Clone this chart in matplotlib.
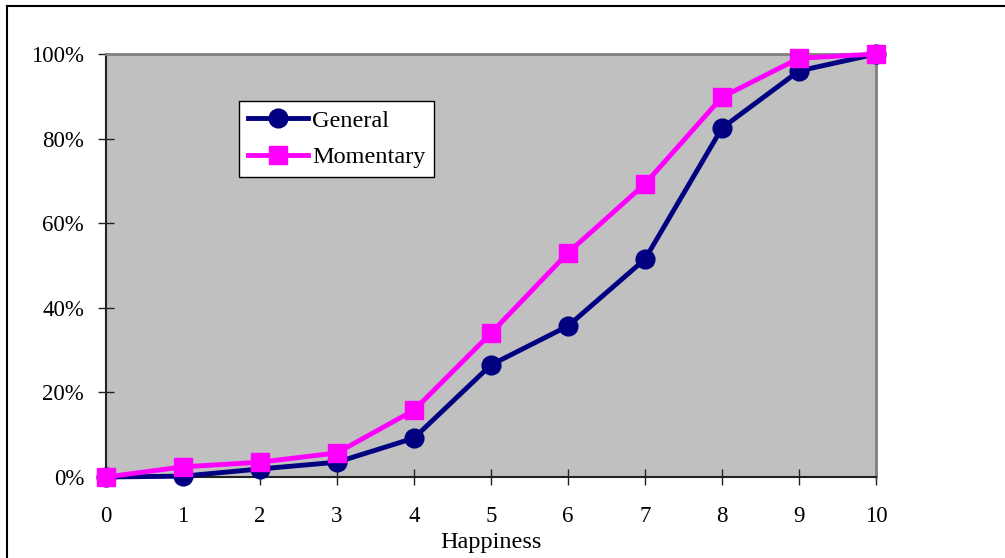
import numpy as np
from matplotlib import pyplot as plt
from matplotlib.ticker import PercentFormatter

happiness = list(range(11))
general = [0.0, 0.2, 1.9, 3.5, 9.2, 26.5, 35.7, 51.5, 82.5, 96.0, 100.0]
momentary = [0.0, 2.4, 3.5, 5.7, 15.8, 34.0, 53.0, 69.3, 89.8, 99.0, 100.0]

plt.rcParams['font.family'] = ['Liberation Serif', 'DejaVu Serif']

fig = plt.figure(figsize=(10.05, 5.58), dpi=100)
ax = fig.add_axes([106/1005, 1 - 477/558, 770/1005, 423/558])
ax.set_facecolor('#c0c0c0')

# outer frame: only top and left visible
fig.add_artist(plt.Line2D([7/1005, 7/1005], [0, 1 - 6/558], color='black', lw=1.5))
fig.add_artist(plt.Line2D([7/1005, 1], [1 - 6/558, 1 - 6/558], color='black', lw=1.5))

ax.plot(happiness, general, color='#000080', lw=3.5, marker='o', markersize=13.5,
        clip_on=False, zorder=3, label='General')
ax.plot(happiness, momentary, color='#ff00ff', lw=3.5, marker='s', markersize=13,
        clip_on=False, zorder=4, label='Momentary')

ax.set_xlim(0, 10)
ax.set_ylim(0, 100)
ax.set_xticks(happiness)
ax.set_yticks([0, 20, 40, 60, 80, 100])
ax.yaxis.set_major_formatter(PercentFormatter(decimals=0))
ax.tick_params(direction='inout', length=11.5, width=1, labelsize=16.5, color='#222222')
ax.tick_params(axis='x', pad=15)
ax.tick_params(axis='y', pad=10)

for s in ['left', 'bottom']:
    ax.spines[s].set_color('#222222')
    ax.spines[s].set_linewidth(1.5)
for s in ['top', 'right']:
    ax.spines[s].set_color('#808080')
    ax.spines[s].set_linewidth(2)

ax.set_xlabel('Happiness', fontsize=17.5, labelpad=4)

leg = ax.legend(loc='upper left', bbox_to_anchor=(133/770, 1 - 47/423), fontsize=17.5,
                frameon=True, fancybox=False, edgecolor='black', framealpha=1,
                handlelength=2.5, handletextpad=0.15, borderpad=0.35, labelspacing=0.6,
                borderaxespad=0)
leg.get_frame().set_linewidth(1)

plt.savefig('out.png', dpi=100)
